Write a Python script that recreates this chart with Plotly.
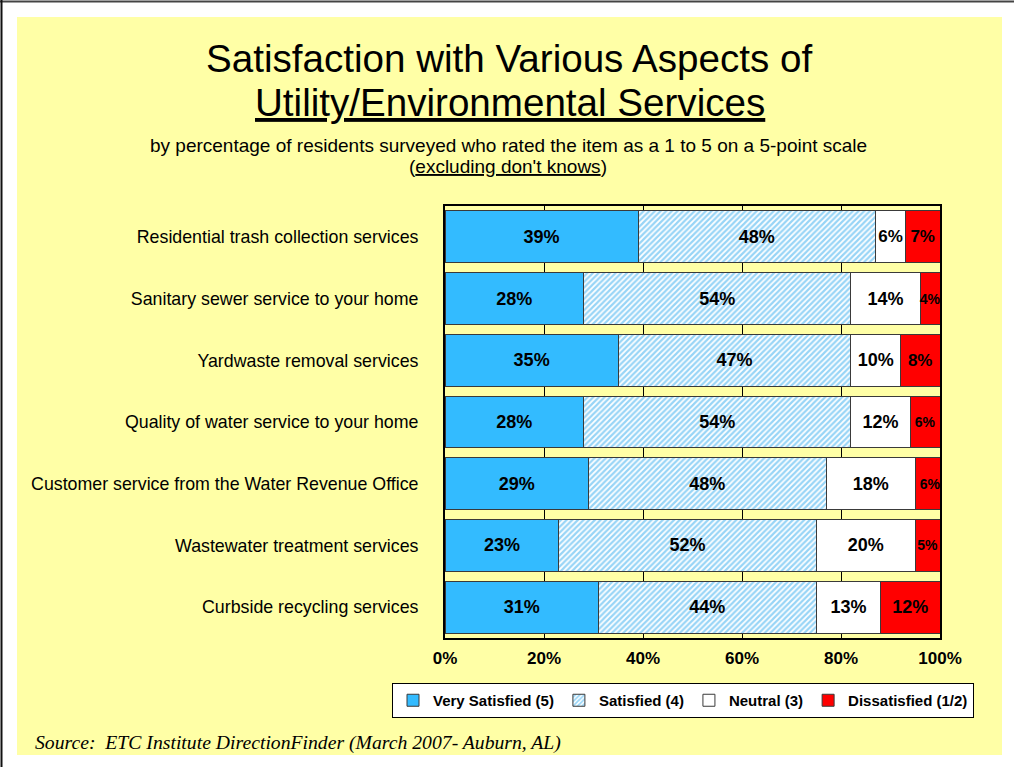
import plotly.graph_objects as go

# Survey items, top to bottom
categories = [
    "Residential trash collection services",
    "Sanitary sewer service to your home",
    "Yardwaste removal services",
    "Quality of water service to your home",
    "Customer service from the Water Revenue Office",
    "Wastewater treatment services",
    "Curbside recycling services",
]

very_satisfied = [39, 28, 35, 28, 29, 23, 31]
satisfied = [48, 54, 47, 54, 48, 52, 44]
neutral = [6, 14, 10, 12, 18, 20, 13]
dissatisfied = [7, 4, 8, 6, 6, 5, 12]

x_ticks = [0, 20, 40, 60, 80, 100]
x_tick_labels = ["0%", "20%", "40%", "60%", "80%", "100%"]

W, H = 1014, 767
ML, MR, MT, MB = 445, 74, 206, 129
PW = W - ML - MR
PH = H - MT - MB

FONT = "Liberation Sans, Arial, sans-serif"


def px_x(px):
    return (px - ML) / PW


def px_y(py):
    return (H - MB - py) / PH


def pct(vals):
    return [f"{v}%" for v in vals]


outline = dict(color="#3a3a3a", width=1)
common = dict(orientation="h", textposition="inside", insidetextanchor="middle",
              textangle=0, constraintext="none", texttemplate="%{text}",
              hoverinfo="skip")

fig = go.Figure()

fig.add_trace(go.Bar(
    name="Very Satisfied (5)", y=categories, x=very_satisfied, text=pct(very_satisfied),
    marker=dict(color="#33BBFF", line=outline),
    textfont=dict(family=FONT, size=18, color="black", weight="bold"), **common,
))
fig.add_trace(go.Bar(
    name="Satisfied (4)", y=categories, x=satisfied, text=pct(satisfied),
    marker=dict(color="white", line=outline,
                pattern=dict(shape="/", fgcolor="#2FAAEE", bgcolor="white",
                             size=4, solidity=0.55)),
    textfont=dict(family=FONT, size=18, color="black", weight="bold"), **common,
))
neutral_sizes = [17 if v <= 6 else 18 for v in neutral]
fig.add_trace(go.Bar(
    name="Neutral (3)", y=categories, x=neutral, text=pct(neutral),
    marker=dict(color="white", line=outline),
    textfont=dict(family=FONT, size=neutral_sizes, color="black", weight="bold"), **common,
))
dis_sizes = [17, 14, 17, 14, 14, 14, 18]
fig.add_trace(go.Bar(
    name="Dissatisfied (1/2)", y=categories, x=dissatisfied, text=pct(dissatisfied),
    marker=dict(color="#FF0000", line=outline),
    textfont=dict(family=FONT, size=dis_sizes, color="black", weight="bold"), **common,
))

shapes = [
    # yellow slide panel
    dict(type="rect", xref="paper", yref="paper", layer="below",
         x0=px_x(17), x1=px_x(1002), y0=px_y(755), y1=px_y(17),
         fillcolor="#FFFFA6", line=dict(width=0)),
    # page edges
    dict(type="line", xref="paper", yref="paper",
         x0=px_x(0), x1=px_x(W), y0=px_y(1.5), y1=px_y(1.5),
         line=dict(color="#444444", width=2)),
    dict(type="line", xref="paper", yref="paper",
         x0=px_x(1.5), x1=px_x(1.5), y0=px_y(0), y1=px_y(H),
         line=dict(color="#111111", width=2)),
]

annotations = [
    dict(text="Satisfaction with Various Aspects of", x=px_x(509), y=px_y(58),
         font=dict(family=FONT, size=38.6, color="black")),
    dict(text="<u>Utility/Environmental Services</u>", x=px_x(510), y=px_y(102),
         font=dict(family=FONT, size=38.6, color="black")),
    dict(text="by percentage of residents surveyed who rated the item as a 1 to 5 on a 5-point scale",
         x=px_x(508), y=px_y(145), font=dict(family=FONT, size=19, color="black")),
    dict(text="(<u>excluding don't knows</u>)", x=px_x(508), y=px_y(166),
         font=dict(family=FONT, size=19, color="black")),
    dict(text="<i>Source:  ETC Institute DirectionFinder (March 2007- Auburn, AL)</i>",
         x=px_x(33), y=px_y(742), xanchor="left",
         font=dict(family="Liberation Serif, Times New Roman, serif", size=19.7, color="black")),
]
for a in annotations:
    a.update(xref="paper", yref="paper", showarrow=False)
    a.setdefault("xanchor", "center")
    a.setdefault("yanchor", "middle")

fig.update_layout(
    width=W, height=H,
    margin=dict(l=ML, r=MR, t=MT, b=MB),
    barmode="stack", bargap=0.16,
    paper_bgcolor="white", plot_bgcolor="white",
    showlegend=True,
    legend=dict(orientation="h", x=px_x(392), xanchor="left",
                y=px_y(683), yanchor="top",
                bgcolor="white", bordercolor="black", borderwidth=1,
                font=dict(family=FONT, size=15, color="black", weight="bold"),
                itemwidth=30, traceorder="normal", tracegroupgap=0),
    shapes=shapes,
    annotations=annotations,
    xaxis=dict(range=[0, 100], tickvals=x_ticks, ticktext=x_tick_labels,
               showgrid=True, gridcolor="black", gridwidth=1,
               zeroline=False, showline=True, mirror=True,
               linecolor="black", linewidth=2, ticks="", ticklabelstandoff=4,
               tickfont=dict(family=FONT, size=17, color="black", weight="bold")),
    yaxis=dict(categoryorder="array", categoryarray=categories,
               autorange="reversed", showgrid=False, zeroline=False,
               showline=True, mirror=True, linecolor="black", linewidth=2,
               ticks="", ticklabelstandoff=21,
               tickfont=dict(family=FONT, size=17.8, color="black")),
)

fig.write_html("out.html")
